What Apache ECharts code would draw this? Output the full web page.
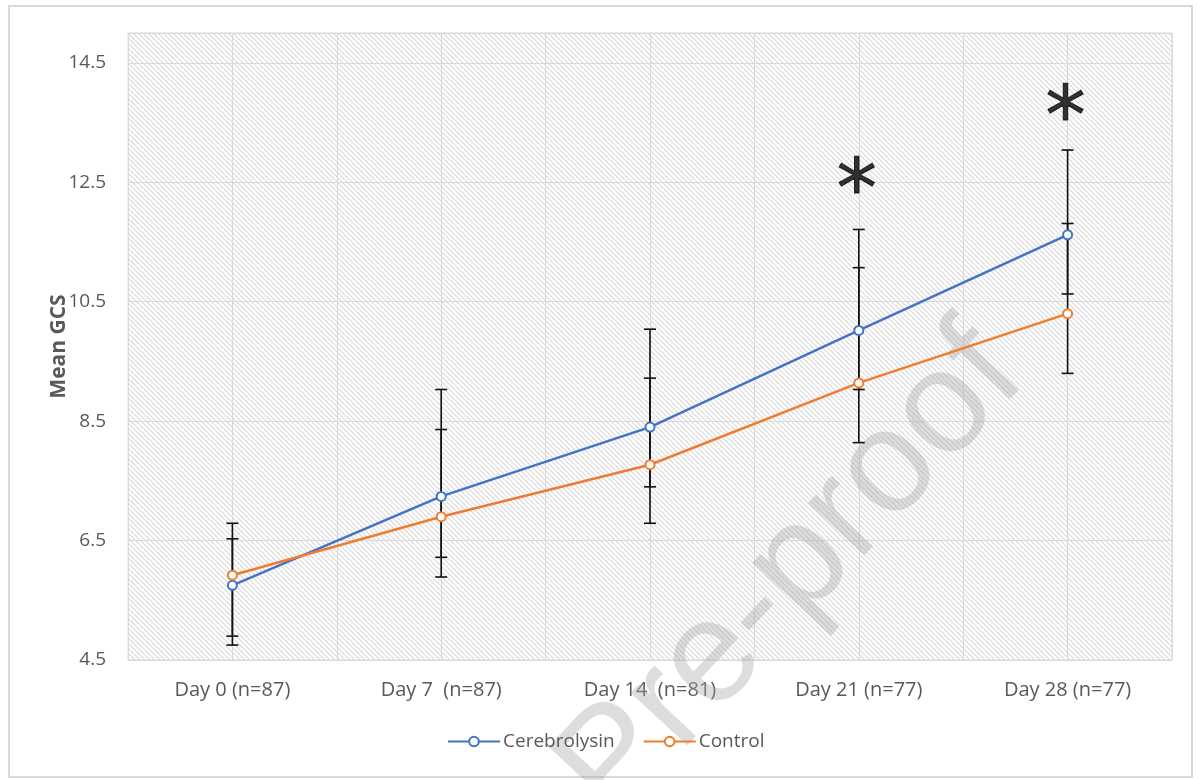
<!DOCTYPE html>
<html>
<head>
<meta charset="utf-8">
<title>Mean GCS over time</title>
<script src="https://cdn.jsdelivr.net/npm/echarts@6/dist/echarts.min.js"></script>
<style>
  html, body { margin: 0; padding: 0; background: #fff; }
  #chart { width: 1200px; height: 780px; }
</style>
</head>
<body>
<div id="chart"></div>
<script>
// Time points (x axis)
const categories = ['Day 0 (n=87)', 'Day 7  (n=87)', 'Day 14  (n=81)', 'Day 21 (n=77)', 'Day 28 (n=77)'];

// Mean GCS per group
const cerebrolysin = [5.75, 7.24, 8.40, 10.02, 11.62];
const control = [5.92, 6.90, 7.77, 9.14, 10.30];

// Error bar ends per group
const cerebrolysinUpper = [6.79, 9.03, 10.04, 11.71, 13.04];
const cerebrolysinLower = [4.75, 5.89, 6.79, 8.14, 9.30];
const controlUpper = [6.53, 8.36, 9.22, 11.07, 11.81];
const controlLower = [4.90, 6.22, 7.40, 9.03, 10.63];

// Significance markers: [category index, GCS level]
const significance = [[3, 12.54], [4, 13.76]];

// Y axis ticks
const yMin = 4.5, yMax = 15, yStep = 2;

const FONT = '"Open Sans", Lato, sans-serif';
const TEXT_GRAY = '#595959';
const GRID_GRAY = '#d9d9d9';

// Diagonal hatch used as the plot background
function makeHatch() {
  const s = 5;
  const c = document.createElement('canvas');
  c.width = s; c.height = s;
  const ctx = c.getContext('2d');
  ctx.fillStyle = '#ffffff';
  ctx.fillRect(0, 0, s, s);
  ctx.strokeStyle = '#d8d8d8';
  ctx.lineWidth = 1.2;
  ctx.beginPath();
  for (const o of [-s, 0, s]) {
    ctx.moveTo(o, 0);
    ctx.lineTo(o + s, s);
  }
  ctx.stroke();
  return c;
}

function errorBarSeries(name, lower, upper) {
  return {
    name: name,
    type: 'custom',
    z: 3,
    silent: true,
    data: lower.map((lo, i) => [i, lo, upper[i]]),
    renderItem: function (params, api) {
      const x = api.value(0);
      const lo = api.coord([x, api.value(1)]);
      const hi = api.coord([x, api.value(2)]);
      const half = 6;
      const style = { stroke: '#111', lineWidth: 1.6 };
      return {
        type: 'group',
        children: [
          { type: 'line', shape: { x1: lo[0], y1: lo[1], x2: hi[0], y2: hi[1] }, style: style },
          { type: 'line', shape: { x1: lo[0] - half, y1: lo[1], x2: lo[0] + half, y2: lo[1] }, style: style },
          { type: 'line', shape: { x1: hi[0] - half, y1: hi[1], x2: hi[0] + half, y2: hi[1] }, style: style }
        ]
      };
    }
  };
}

const chart = echarts.init(document.getElementById('chart'), null, { renderer: 'canvas' });

chart.setOption({
  animation: false,
  textStyle: { fontFamily: FONT },
  grid: {
    left: 128, right: 28, top: 33, bottom: 120,
    show: true,
    borderColor: GRID_GRAY,
    borderWidth: 1,
    backgroundColor: { image: makeHatch(), repeat: 'repeat' }
  },
  legend: {
    bottom: 24,
    left: 442,
    data: ['Cerebrolysin', 'Control'],
    itemWidth: 52,
    itemHeight: 12,
    itemGap: 28,
    textStyle: { fontSize: 19, color: TEXT_GRAY, fontFamily: FONT, padding: [0, 0, 0, -2] }
  },
  xAxis: [
    {
      type: 'category',
      data: categories,
      boundaryGap: true,
      axisLine: { lineStyle: { color: GRID_GRAY, width: 1 } },
      axisTick: { show: false },
      axisLabel: { color: TEXT_GRAY, fontSize: 20, margin: 20, fontFamily: FONT },
      splitLine: { show: false }
    },
    {
      // half-category guide lines
      type: 'value',
      min: 0, max: 10, interval: 1,
      position: 'bottom',
      axisLine: { show: false },
      axisTick: { show: false },
      axisLabel: { show: false },
      splitLine: { show: true, lineStyle: { color: GRID_GRAY, width: 1 } }
    }
  ],
  yAxis: {
    type: 'value',
    min: yMin, max: yMax, interval: yStep,
    name: 'Mean GCS',
    nameLocation: 'middle',
    nameGap: 58,
    nameMoveOverlap: false,
    nameTextStyle: { fontSize: 21, fontWeight: 'bold', color: TEXT_GRAY, fontFamily: FONT },
    axisLine: { show: false },
    axisTick: { show: false },
    axisLabel: {
      color: TEXT_GRAY, fontSize: 19, margin: 22, fontFamily: FONT,
      showMaxLabel: false,
      formatter: v => (v > 14.9 ? '' : v.toFixed(1))
    },
    splitLine: { lineStyle: { color: GRID_GRAY, width: 1 } }
  },
  graphic: [
    {
      type: 'rect',
      z: -1,
      shape: { x: 9, y: 6, width: 1183, height: 771 },
      style: { fill: null, stroke: GRID_GRAY, lineWidth: 2 }
    },
    {
      type: 'text',
      z: 1,
      x: 792, y: 574,
      rotation: 47 * Math.PI / 180,
      style: {
        text: 'Pre-proof',
        font: 'normal 146px "Liberation Sans", Arial, sans-serif',
        fill: 'rgba(165,165,165,0.38)',
        align: 'center',
        verticalAlign: 'middle'
      }
    }
  ],
  series: [
    errorBarSeries('Cerebrolysin SD', cerebrolysinLower, cerebrolysinUpper),
    errorBarSeries('Control SD', controlLower, controlUpper),
    {
      name: 'Cerebrolysin',
      type: 'line',
      z: 4,
      data: cerebrolysin,
      symbol: 'emptyCircle',
      symbolSize: 9,
      lineStyle: { color: '#4472C4', width: 2.5 },
      itemStyle: { color: '#4472C4', borderWidth: 2.5 }
    },
    {
      name: 'Control',
      type: 'line',
      z: 4,
      data: control,
      symbol: 'emptyCircle',
      symbolSize: 9,
      lineStyle: { color: '#ED7D31', width: 2.5 },
      itemStyle: { color: '#ED7D31', borderWidth: 2.5 }
    },
    {
      name: 'Significance',
      type: 'scatter',
      z: 5,
      silent: true,
      symbolSize: 1,
      itemStyle: { color: 'rgba(0,0,0,0)' },
      data: significance,
      label: {
        show: true,
        position: 'inside',
        formatter: '*',
        fontSize: 80,
        color: '#000',
        fontFamily: '"DejaVu Sans", sans-serif',
        textBorderColor: '#000',
        textBorderWidth: 1,
        offset: [-2, 15]
      }
    }
  ]
});
</script>
</body>
</html>
